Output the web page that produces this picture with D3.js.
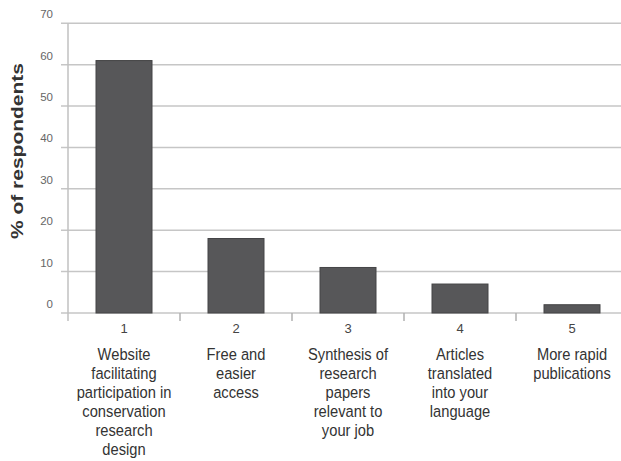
<!DOCTYPE html>
<html>
<head>
<meta charset="utf-8">
<script src="https://cdn.jsdelivr.net/npm/d3@7"></script>
<style>
  html, body { margin: 0; padding: 0; background: #fff; }
  svg { display: block; font-family: "Liberation Sans", Arial, sans-serif; }
</style>
</head>
<body>
<svg id="chart" width="621" height="461"></svg>
<script>
// ---- data ----
const categories = ["1", "2", "3", "4", "5"];
const labels = [
  ["Website", "facilitating", "participation in", "conservation", "research", "design"],
  ["Free and", "easier", "access"],
  ["Synthesis of", "research", "papers", "relevant to", "your job"],
  ["Articles", "translated", "into your", "language"],
  ["More rapid", "publications"]
];
const values = [61, 18, 11, 7, 2];
const yTicks = [0, 10, 20, 30, 40, 50, 60, 70];
const yTitle = "% of respondents";

// ---- layout ----
const svg = d3.select("#chart");
const x0 = 68, x1 = 628, yBottom = 313, yTop = 23.3;
const x = d3.scaleBand().domain(categories).range([x0, x1]).paddingInner(0.5).paddingOuter(0.25);
const xb = d3.scaleBand().domain(categories).range([x0, x1]).padding(0);
const y = d3.scaleLinear().domain([0, 70]).range([yBottom, yTop]);

// gridlines (extend left of axis as ticks)
svg.append("g").selectAll("line").data(yTicks).join("line")
  .attr("x1", 61).attr("x2", 621)
  .attr("y1", d => y(d)).attr("y2", d => y(d))
  .attr("stroke", "#c6c6c6").attr("stroke-width", 1.5);

// y axis line
svg.append("line").attr("x1", x0).attr("x2", x0).attr("y1", y(70)).attr("y2", yBottom + 8)
  .attr("stroke", "#c0c0c0").attr("stroke-width", 1.5);

// x category boundary ticks
svg.append("g").selectAll("line").data(categories.slice(1)).join("line")
  .attr("x1", d => xb(d)).attr("x2", d => xb(d))
  .attr("y1", yBottom).attr("y2", yBottom + 8)
  .attr("stroke", "#b0b0b0").attr("stroke-width", 1.5);

// y tick labels
svg.append("g").selectAll("text").data(yTicks).join("text")
  .attr("x", 53).attr("y", d => y(d) - 5)
  .attr("text-anchor", "end")
  .attr("font-size", "11.5px").attr("fill", "#666")
  .text(d => d);

// bars
svg.append("g").selectAll("rect").data(values).join("rect")
  .attr("x", (d, i) => x(categories[i]))
  .attr("width", x.bandwidth())
  .attr("y", d => y(d))
  .attr("height", d => yBottom - y(d))
  .attr("fill", "#575759").attr("stroke", "#444446").attr("stroke-width", 1);

// x tick numbers
svg.append("g").selectAll("text").data(categories).join("text")
  .attr("x", d => xb(d) + xb.bandwidth() / 2).attr("y", 333)
  .attr("text-anchor", "middle")
  .attr("font-size", "13px").attr("fill", "#444")
  .text(d => d);

// category labels (slightly vertically stretched as in the reference)
const lab = svg.append("g").selectAll("g").data(categories).join("g")
  .attr("transform", d => `translate(${xb(d) + xb.bandwidth() / 2},360) scale(1,1.14)`);
lab.each(function(d, i) {
  d3.select(this).selectAll("text").data(labels[i]).join("text")
    .attr("x", 0).attr("y", (t, j) => j * 16.6)
    .attr("text-anchor", "middle")
    .attr("font-size", "14.7px").attr("fill", "#333")
    .text(t => t);
});

// y title
svg.append("text")
  .attr("transform", "translate(23,151) rotate(-90)")
  .attr("text-anchor", "middle")
  .attr("font-size", "16px").attr("font-weight", "bold").attr("fill", "#333")
  .attr("textLength", 176).attr("lengthAdjust", "spacingAndGlyphs")
  .text(yTitle);
</script>
</body>
</html>
